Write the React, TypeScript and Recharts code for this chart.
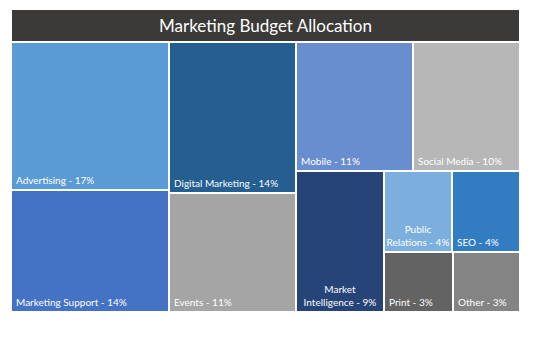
import { Treemap } from "recharts";

const categories = [
  "Advertising",
  "Marketing Support",
  "Digital Marketing",
  "Events",
  "Mobile",
  "Social Media",
  "Market Intelligence",
  "Public Relations",
  "SEO",
  "Print",
  "Other",
];
const shares = [17, 14, 14, 11, 11, 10, 9, 4, 4, 3, 3];
const palette = [
  "#5b9bd5",
  "#4472c4",
  "#255e91",
  "#a5a5a5",
  "#698ed0",
  "#b7b7b7",
  "#264478",
  "#7cafdd",
  "#327dc2",
  "#636363",
  "#848484",
];

const total = shares.reduce((a, b) => a + b, 0);
const data = categories.map((name, i) => ({ name, size: shares[i], color: palette[i] }));

const FONT = "Lato, 'Open Sans', sans-serif";

function Tile(props: any) {
  const { x, y, width, height, depth, name, size, color } = props;
  if (depth !== 1) return <g />;
  const label = `${name} - ${Math.round((size / total) * 100)}%`;
  // rough text width check, wrap onto two lines when the tile is too narrow
  const fits = label.length * 4.6 + 10 <= width;
  const base = y + height - 6;
  return (
    <g>
      <rect x={x} y={y} width={width} height={height} fill={color} stroke="#ffffff" strokeWidth={2} />
      {fits ? (
        <text x={x + 5} y={base} fill="#ffffff" fontSize={10} fontFamily={FONT}>
          {label}
        </text>
      ) : (
        <text x={x + width / 2} y={base - 13} fill="#ffffff" fontSize={10} fontFamily={FONT} textAnchor="middle">
          <tspan x={x + width / 2}>{label.split(" ")[0]}</tspan>
          <tspan x={x + width / 2} dy={13}>
            {label.split(" ").slice(1).join(" ")}
          </tspan>
        </text>
      )}
    </g>
  );
}

export default function App() {
  return (
    <div style={{ position: "absolute", left: 0, top: 0, width: 536, height: 341, background: "#ffffff" }}>
      {/* Title bar */}
      <div
        style={{
          position: "absolute",
          left: 12,
          top: 10,
          width: 507,
          height: 31,
          background: "#3b3a38",
          color: "#ffffff",
          fontFamily: FONT,
          fontSize: 17,
          lineHeight: "31px",
          textAlign: "center",
        }}
      >
        Marketing Budget Allocation
      </div>
      <div style={{ position: "absolute", left: 11, top: 42 }}>
        <Treemap
          width={509}
          height={270}
          data={data}
          dataKey="size"
          nameKey="name"
          aspectRatio={1}
          isAnimationActive={false}
          content={<Tile />}
        />
      </div>
    </div>
  );
}
